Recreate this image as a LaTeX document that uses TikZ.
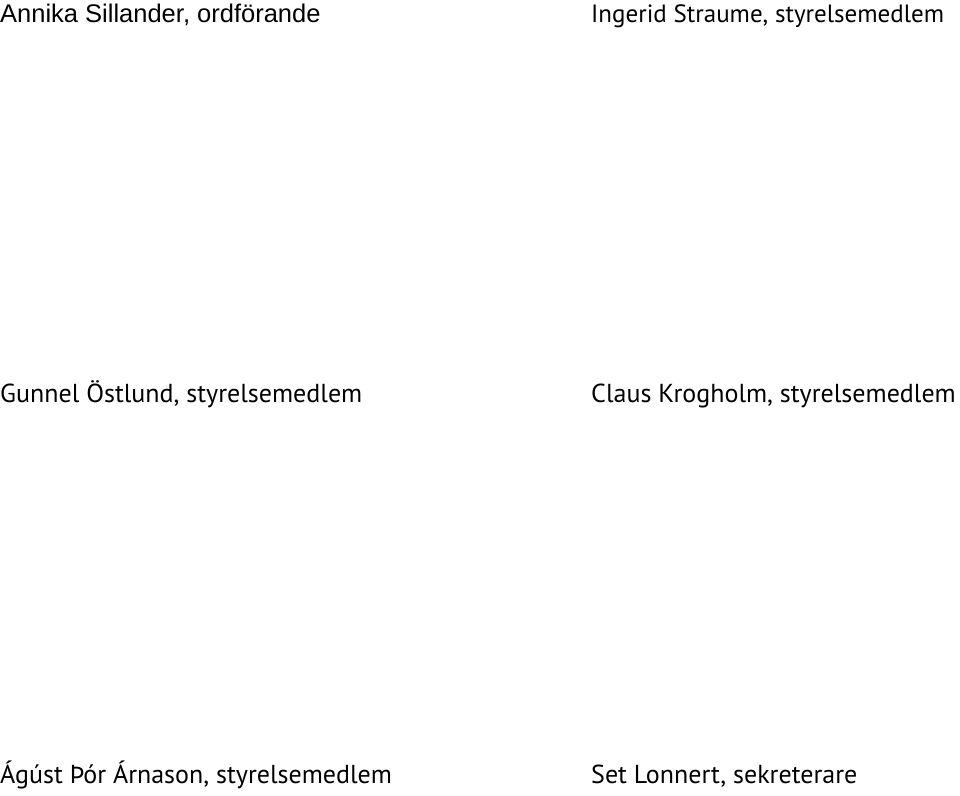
\documentclass[tikz,border=0pt]{standalone}
\usepackage{fontspec}
\setmainfont{PT Sans}
\newfontfamily\arialfont{Liberation Sans}
\usetikzlibrary{positioning}

\tikzset{
  member/.style={anchor=base west, inner sep=0pt, font=\fontsize{26}{30}\selectfont}
}

\begin{document}
\begin{tikzpicture}[x=1pt,y=-1pt]
  \useasboundingbox (0,0) rectangle (960,795);
  % first row
  \node[member, font=\arialfont\fontsize{25.5}{29}\selectfont] (chair) at (0,22) {Annika Sillander, ordförande};
  \node[member, font=\fontsize{25}{29}\selectfont] (straume) at (591,22) {Ingerid Straume, styrelsemedlem};
  % second row
  \node[member] (ostlund) at (0,402) {Gunnel Östlund, styrelsemedlem};
  \node[member] (krogholm) at (591,402) {Claus Krogholm, styrelsemedlem};
  % third row
  \node[member] (arnason) at (0,783) {Ágúst Þór Árnason, styrelsemedlem};
  \node[member] (lonnert) at (591,783) {Set Lonnert, sekreterare};
\end{tikzpicture}
\end{document}
